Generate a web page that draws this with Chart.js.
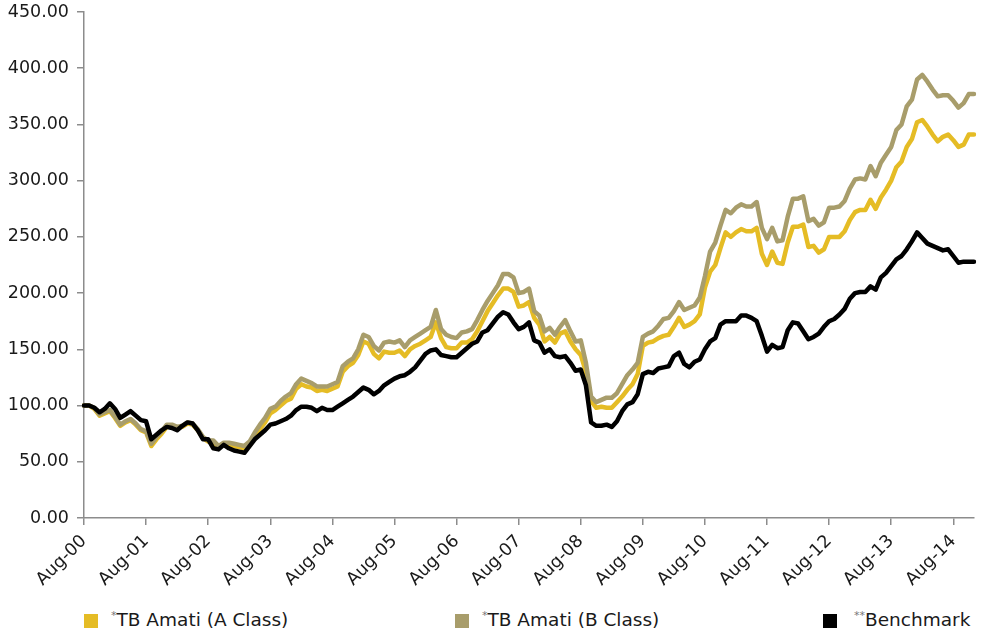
<!DOCTYPE html>
<html>
<head>
<meta charset="utf-8">
<script src="https://cdn.jsdelivr.net/npm/chart.js@4.4.1/dist/chart.umd.min.js"></script>
<style>
html,body{margin:0;padding:0;background:#fff;}
#wrap{position:relative;width:986px;height:633px;overflow:hidden;}
#cv{position:absolute;left:0;top:0;}
.sw{position:absolute;top:614px;width:14px;height:14px;}
.lt{position:absolute;top:609px;font-family:"DejaVu Sans",sans-serif;font-size:18.5px;line-height:22px;color:#1a1a1a;white-space:nowrap;}
.lt sup{font-size:11px;color:#777;vertical-align:7px;line-height:0;}
</style>
</head>
<body>
<div id="wrap">
<canvas id="cv" width="986" height="600"></canvas>
<div class="sw" style="left:84px;background:#E5BC25;"></div>
<div class="lt" style="left:111px;"><sup>*</sup>TB Amati (A Class)</div>
<div class="sw" style="left:455px;background:#A89D6B;"></div>
<div class="lt" style="left:482px;"><sup>*</sup>TB Amati (B Class)</div>
<div class="sw" style="left:823px;background:#000;"></div>
<div class="lt" style="left:854px;"><sup>**</sup>Benchmark</div>
</div>
<script>
// Category labels: monthly from Aug-00 to Dec-14
const monthNames = ["Jan","Feb","Mar","Apr","May","Jun","Jul","Aug","Sep","Oct","Nov","Dec"];
const startYear = 2000, startMonth = 7, monthCount = 173;
const months = [];
for (let i = 0; i < monthCount; i++) {
  const m = (startMonth + i) % 12;
  const y = startYear + Math.floor((startMonth + i) / 12);
  months.push(monthNames[m] + "-" + String(y % 100).padStart(2, "0"));
}

const seriesNames = ["TB Amati (A Class)", "TB Amati (B Class)", "Benchmark"];

const classA = [
100,100,97,91,93,95,89,82,85,87,83,78,
76,64,70,75,81,82,80,81,84,83,78,71,
68,67,63,65,65,64,63,62,66,73,79,85,
93,96,100,104,106,115,119,117,116,113,114,113,
115,117,130,135,138,145,157,155,146,142,148,147,
147,149,144,150,153,155,158,161,174,160,152,151,
151,156,156,159,166,175,184,191,198,204,204,201,
188,189,192,178,172,157,161,156,164,166,157,150,
145,130,104,98,99,98,98,103,108,114,119,128,
153,156,157,160,162,163,170,178,170,172,175,181,
205,219,225,240,254,250,254,257,255,255,258,235,
225,237,227,226,245,259,259,261,241,242,236,239,
250,250,250,255,265,272,274,274,283,275,285,292,
300,312,317,330,337,352,354,348,341,335,339,341,
336,330,332,341,341];

const classB = [
100,100,98,92,94,96,90,83,86,88,84,79,
77,66,72,77,83,83,81,82,85,84,79,72,
69,69,64,67,67,66,65,64,68,76,83,89,
97,99,104,108,111,119,124,122,120,117,117,117,
119,121,135,139,142,150,163,161,153,149,156,157,
156,158,152,158,161,164,167,170,185,168,163,161,
160,165,166,168,176,185,193,200,207,217,217,214,
200,201,204,184,180,166,169,163,170,176,166,157,
158,138,108,103,105,107,107,111,119,127,132,138,
161,164,166,171,177,178,184,192,185,187,189,196,
215,237,245,260,274,271,276,279,277,277,281,258,
248,258,246,247,268,284,284,286,264,266,260,263,
276,276,277,282,293,301,302,301,313,304,316,323,
330,345,350,366,372,390,394,388,381,375,376,376,
371,365,369,377,377];

const benchmark = [
100,100,98,94,97,102,97,89,92,95,91,87,
86,70,74,78,81,80,78,82,85,84,78,70,
70,62,61,65,62,60,59,58,64,70,74,78,
83,84,86,88,91,96,99,99,98,95,98,96,
96,99,102,105,108,112,116,114,110,113,118,121,
124,126,127,130,134,140,146,149,150,145,144,143,
143,147,151,155,157,165,167,173,179,183,181,174,
168,170,174,158,156,147,150,144,143,144,138,131,
132,118,85,82,82,83,81,86,95,101,103,110,
128,130,129,133,134,135,144,147,137,134,139,141,
150,157,160,172,175,175,175,180,180,178,175,162,
148,154,151,152,167,174,173,166,159,161,164,170,
175,177,181,186,195,200,201,201,206,203,214,218,
224,230,233,239,246,254,249,244,242,240,238,239,
233,227,228,228,228];

const yTicks = [0,50,100,150,200,250,300,350,400,450];

const FONT = {family: "DejaVu Sans", size: 17.5};
const axisColor = "#8c8c8c";

new Chart(document.getElementById("cv"), {
  type: "line",
  data: {
    labels: months,
    datasets: [
      {label: seriesNames[0], data: classA, borderColor: "#E5BC25", order: 3},
      {label: seriesNames[1], data: classB, borderColor: "#A89D6B", order: 2},
      {label: seriesNames[2], data: benchmark, borderColor: "#000000", order: 1}
    ].map(d => Object.assign(d, {
      borderWidth: 4.5, pointRadius: 0, tension: 0, fill: false,
      borderJoinStyle: "round", borderCapStyle: "round"
    }))
  },
  options: {
    responsive: false,
    animation: false,
    layout: {padding: {left: 0, right: 12, top: 12, bottom: 0}},
    plugins: {legend: {display: false}, tooltip: {enabled: false}},
    scales: {
      x: {
        type: "category",
        offset: false,
        grid: {display: true, drawOnChartArea: false, drawTicks: true, tickLength: 7, color: axisColor, lineWidth: 1.5},
        border: {display: true, color: axisColor, width: 1.5},
        ticks: {
          autoSkip: false, maxRotation: 45, minRotation: 45, padding: 6,
          color: "#1a1a1a", font: FONT,
          callback: function(v, i) { return (i % 12 === 0) ? months[i] : null; }
        },
        afterFit: function(s) { s.height = 82; }
      },
      y: {
        min: 0, max: 450,
        afterBuildTicks: function(s) { s.ticks = yTicks.map(v => ({value: v})); },
        grid: {display: true, drawOnChartArea: false, drawTicks: true, tickLength: 7, color: axisColor, lineWidth: 1.5},
        border: {display: true, color: axisColor, width: 1.5},
        ticks: {color: "#1a1a1a", font: FONT, padding: 8, callback: v => Number(v).toFixed(2)},
        afterFit: function(s) { s.width = 84; s.paddingTop = 0; s.paddingBottom = 0; }
      }
    }
  }
});
</script>
</body>
</html>
